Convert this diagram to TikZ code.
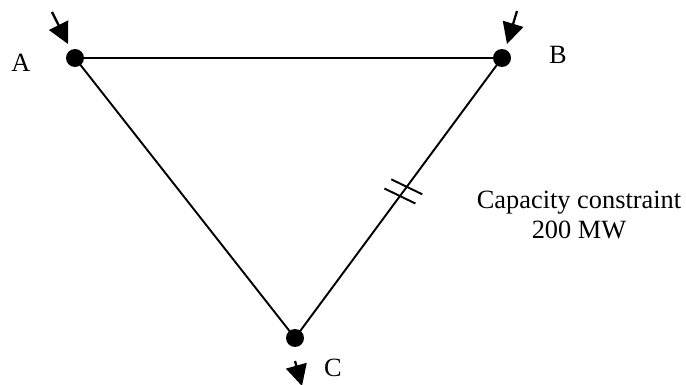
\documentclass[tikz,border=0pt]{standalone}
\usepackage{fontspec}
\setmainfont{Liberation Serif}
\usetikzlibrary{arrows.meta, calc}

\tikzset{
  bus/.style={circle, fill=black, inner sep=0pt, minimum size=0.36cm},
  line/.style={line width=1.1pt},
  inj/.style={line width=1.3pt, -{Triangle[length=12pt,width=12pt]}},
  lbl/.style={font=\fontsize{15}{17}\selectfont}
}

\begin{document}
\begin{tikzpicture}[x=0.02cm, y=-0.02cm]
\useasboundingbox (0,0) rectangle (686,385);

 %buses:
 \node[bus] (A) at (75,58) {};
 \node[bus] (B) at (502,58) {};
 \node[bus] (C) at (295,338) {};
 \node[lbl] (labA) at (21,63) {A};
 \node[lbl] (labB) at (558,55) {B};
 \node[lbl] (labC) at (333,368) {C};

 %lines
 \draw[line] (A.center) -- (B.center);
 \draw[line] (A.center) -- (C.center);
 \draw[line] (B.center) -- (C.center);

 %injections
 \coordinate (inA) at (52,12);
 \coordinate (tipA) at (68,44);
 \coordinate (inB) at (517,11);
 \coordinate (tipB) at (507,44);
 \coordinate (outC) at (295,361);
 \coordinate (tipC) at (302,386);
 \draw[inj] (inA) -- (tipA);
 \draw[inj] (inB) -- (tipB);
 \draw[inj] (outC) -- (tipC);

 %capacity marks on B--C
 \coordinate (m1) at ($(B.center)!0.460!(C.center)$);
 \coordinate (m2) at ($(B.center)!0.493!(C.center)$);
 \draw[line] ($(m1)+(-15.5,-7.5)$) -- ($(m1)+(15.5,7.5)$);
 \draw[line] ($(m2)+(-15.5,-7.5)$) -- ($(m2)+(15.5,7.5)$);
 \node[lbl, align=center] (cap) at (579,215) {Capacity constraint\\200 MW};
\end{tikzpicture}
\end{document}
